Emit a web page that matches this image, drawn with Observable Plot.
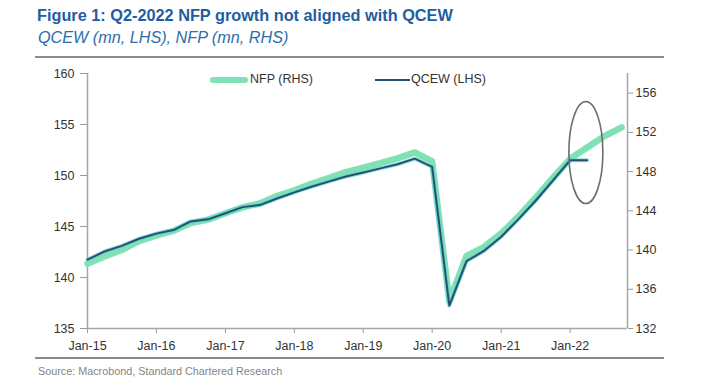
<!DOCTYPE html>
<html>
<head>
<meta charset="utf-8">
<script src="https://cdn.jsdelivr.net/npm/d3@7"></script>
<script src="https://cdn.jsdelivr.net/npm/@observablehq/plot@0.6"></script>
<style>
  body { margin: 0; background: #fff; }
  #wrap { position: relative; width: 705px; height: 389px; overflow: hidden; font-family: "Liberation Sans", Arial, sans-serif; }
  #head { position: absolute; left: 35px; top: 0; width: 629px; height: 56px; border-bottom: 2px solid #8c8c8c; }
  #title { position: absolute; left: 2px; top: 8px; font-weight: bold; font-size: 16.3px; line-height: 15px; color: #1f5e9e; white-space: nowrap; }
  #sub { position: absolute; left: 3px; top: 29px; font-style: italic; font-size: 16.2px; line-height: 16px; color: #2d6dab; white-space: nowrap; }
  #chart { position: absolute; left: 0; top: 60px; }
  #foot { position: absolute; left: 35px; top: 357px; width: 629px; border-top: 2px solid #8c8c8c; }
  #src { position: absolute; left: 38px; top: 366px; font-size: 10.8px; line-height: 11px; color: #858585; white-space: nowrap; }
  .lt { position: absolute; top: 73px; font-family: "Liberation Sans", Arial, sans-serif; font-size: 12.5px; line-height: 13px; color: #333; white-space: nowrap; }
  .sw { position: absolute; display: block; }
</style>
</head>
<body>
<div id="wrap">
  <div id="head">
    <div id="title">Figure 1: Q2-2022 NFP growth not aligned with QCEW</div>
    <div id="sub">QCEW (mn, LHS), NFP (mn, RHS)</div>
  </div>
  <div id="chart"></div>
  <div id="legend">
    <span class="sw" style="left:210px;top:76.5px;width:38px;height:6px;background:#80e2b4;border-radius:3px"></span>
    <span class="lt" style="left:250px;">NFP (RHS)</span>
    <span class="sw" style="left:375px;top:78.5px;width:35px;height:2px;background:#26506f"></span>
    <span class="lt" style="left:411px;">QCEW (LHS)</span>
  </div>
  <div id="foot"></div>
  <div id="src">Source: Macrobond, Standard Chartered Research</div>
</div>
<script>
// QCEW (mn, left axis), quarterly
const qcewDates = ["2015-01","2015-04","2015-07","2015-10","2016-01","2016-04","2016-07","2016-10",
  "2017-01","2017-04","2017-07","2017-10","2018-01","2018-04","2018-07","2018-10",
  "2019-01","2019-04","2019-07","2019-10","2020-01","2020-04","2020-07","2020-10",
  "2021-01","2021-04","2021-07","2021-10","2022-01","2022-04"];
const qcewValues = [141.75,142.55,143.1,143.8,144.3,144.65,145.5,145.7,
  146.3,146.9,147.1,147.75,148.35,148.9,149.4,149.9,
  150.3,150.7,151.1,151.65,150.85,137.25,141.6,142.6,
  144.0,145.7,147.5,149.5,151.5,151.5];

// NFP (mn, right axis)
const nfpDates = ["2015-01","2015-04","2015-07","2015-10","2016-01","2016-04","2016-07","2016-10",
  "2017-01","2017-04","2017-07","2017-10","2018-01","2018-04","2018-07","2018-10",
  "2019-01","2019-04","2019-07","2019-10","2020-01","2020-04","2020-07","2020-10",
  "2021-01","2021-04","2021-07","2021-10","2022-01","2022-04","2022-07","2022-10"];
const nfpValues = [138.6,139.35,140.0,140.9,141.5,141.95,142.75,143.1,
  143.75,144.35,144.75,145.5,146.1,146.75,147.35,147.95,
  148.4,148.85,149.35,149.95,149.05,134.8,139.4,140.3,
  141.7,143.4,145.3,147.35,149.3,150.45,151.6,152.5];

// Axes
const leftDomain = [135, 160];
const rightDomain = [132, 158];
const leftTicks = [135, 140, 145, 150, 155, 160];
const rightTicks = [132, 136, 140, 144, 148, 152, 156];
const xTickYears = [2015, 2016, 2017, 2018, 2019, 2020, 2021, 2022];
const xDomainEnd = "2022-11-01";

// Highlight ellipse (annotation) centre
const ellipseDate = "2022-03-28";
const ellipseValue = 152.2; // left-axis units

const parse = s => new Date(s.length === 7 ? s + "-01T00:00:00Z" : s + "T00:00:00Z");
const toLeft = r => leftDomain[0] + (r - rightDomain[0]) * (leftDomain[1] - leftDomain[0]) / (rightDomain[1] - rightDomain[0]);

const qcew = qcewDates.map((d, i) => ({date: parse(d), v: qcewValues[i]}));
const nfp = nfpDates.map((d, i) => ({date: parse(d), v: toLeft(nfpValues[i])}));
const xTicks = xTickYears.map(y => new Date(Date.UTC(y, 0, 1)));
const xStart = xTicks[0], xEnd = parse(xDomainEnd);

const tickFont = '"Liberation Sans", Arial, sans-serif';

const ellipseMark = Plot.dot([{date: parse(ellipseDate), v: ellipseValue}], {
  x: "date", y: "v",
  render: (index, scales, values) => {
    const g = d3.create("svg:g");
    for (const i of index) {
      g.append("ellipse")
        .attr("cx", values.x[i]).attr("cy", values.y[i])
        .attr("rx", 17).attr("ry", 51)
        .attr("fill", "none").attr("stroke", "#6e6e6e").attr("stroke-width", 1.6);
    }
    return g.node();
  }
});

const chart = Plot.plot({
  width: 705,
  height: 297,
  marginTop: 13,
  marginBottom: 29,
  marginLeft: 87,
  marginRight: 78,
  style: {fontFamily: tickFont, fontSize: "12.5px", color: "#333", background: "transparent"},
  x: {type: "utc", domain: [xStart, xEnd], axis: null},
  y: {domain: leftDomain, axis: null},
  marks: [
    Plot.axisX({ticks: xTicks, tickFormat: d3.utcFormat("%b-%y"), tickSize: 5, tickPadding: 8, stroke: "#999", fill: "#333", label: null}),
    Plot.axisY({anchor: "left", ticks: leftTicks, tickSize: 7, tickPadding: 6, stroke: "#999", fill: "#333", label: null}),
    Plot.axisY({anchor: "right", ticks: rightTicks.map(toLeft), tickFormat: (d, i) => String(rightTicks[i]), tickSize: 5, tickPadding: 3, stroke: "#999", fill: "#333", label: null}),
    Plot.ruleY([leftDomain[0]], {stroke: "#a6a6a6", strokeWidth: 1.5}),
    Plot.ruleX([xStart, xEnd], {stroke: "#a6a6a6", strokeWidth: 1.5}),
    Plot.line(nfp, {x: "date", y: "v", stroke: "#80e2b4", strokeWidth: 6.5, strokeLinecap: "round", strokeLinejoin: "round"}),
    Plot.line(qcew, {x: "date", y: "v", stroke: "#5fd3d6", strokeWidth: 4, strokeOpacity: 0.7, strokeLinejoin: "round"}),
    Plot.line(qcew, {x: "date", y: "v", stroke: "#26506f", strokeWidth: 2, strokeLinejoin: "round"}),
    ellipseMark
  ]
});
document.getElementById("chart").appendChild(chart);
</script>
</body>
</html>
